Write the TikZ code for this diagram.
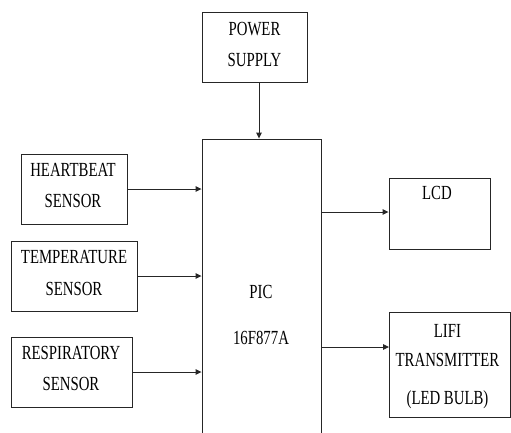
\documentclass[tikz,border=0pt]{standalone}
\usepackage{fontspec}
\setmainfont[FakeStretch=0.74]{Liberation Serif}
\usetikzlibrary{arrows.meta}
\begin{document}
\begin{tikzpicture}[x=1pt,y=-1pt,
  blk/.style={draw=black!85, line width=0.9pt, inner sep=0pt},
  lbl/.style={anchor=base, inner sep=0pt, font=\fontsize{20pt}{24pt}\selectfont},
  conn/.style={draw=black!85, line width=0.9pt, -{Triangle[length=6pt,width=5.5pt]}}]
\useasboundingbox (0,0) rectangle (511,432);
\clip (0,0) rectangle (511,432);
% blocks
\node[blk, minimum width=105pt, minimum height=70pt] (ps) at (254.5,47) {};
\node[blk, minimum width=119pt, minimum height=320pt] (pic) at (261.5,299) {};
\node[blk, minimum width=106pt, minimum height=70pt] (hb) at (74,189) {};
\node[blk, minimum width=126pt, minimum height=70pt] (tmp) at (74,276) {};
\node[blk, minimum width=121pt, minimum height=70pt] (rsp) at (71.5,372) {};
\node[blk, minimum width=101pt, minimum height=71pt] (lcd) at (439.5,213.5) {};
\node[blk, minimum width=121pt, minimum height=105pt] (lifi) at (450,364.5) {};
% labels
\node[lbl] (t1) at (254.5,35.5) {POWER};
\node[lbl] (t2) at (254.5,66.5) {SUPPLY};
\node[lbl] (t3) at (73,176) {HEARTBEAT};
\node[lbl] (t4) at (73,207.5) {SENSOR};
\node[lbl] (t5) at (74,263.5) {TEMPERATURE};
\node[lbl] (t6) at (74,295.5) {SENSOR};
\node[lbl] (t7) at (71,359) {RESPIRATORY};
\node[lbl] (t8) at (71,390.5) {SENSOR};
\node[lbl] (t9) at (261,298) {PIC};
\node[lbl] (t10) at (261,344) {16F877A};
\node[lbl] (t11) at (437,199.5) {LCD};
\node[lbl] (t12) at (447.5,337.5) {LIFI};
\node[lbl] (t13) at (447.5,366.5) {TRANSMITTER};
\node[lbl] (t14) at (447.5,404.5) {(LED BULB)};
% connectors
\draw[conn] ([xshift=4.5pt]ps.south) -- ([xshift=4.5pt]ps.south |- pic.north);
\draw[conn] (hb.east) -- (hb.east -| pic.west);
\draw[conn] (tmp.east) -- (tmp.east -| pic.west);
\draw[conn] (rsp.east) -- (rsp.east -| pic.west);
\draw[conn] (pic.east |- 0,212) -- (lcd.west |- 0,212);
\draw[conn] (pic.east |- 0,347) -- (lifi.west |- 0,347);
\end{tikzpicture}
\end{document}
